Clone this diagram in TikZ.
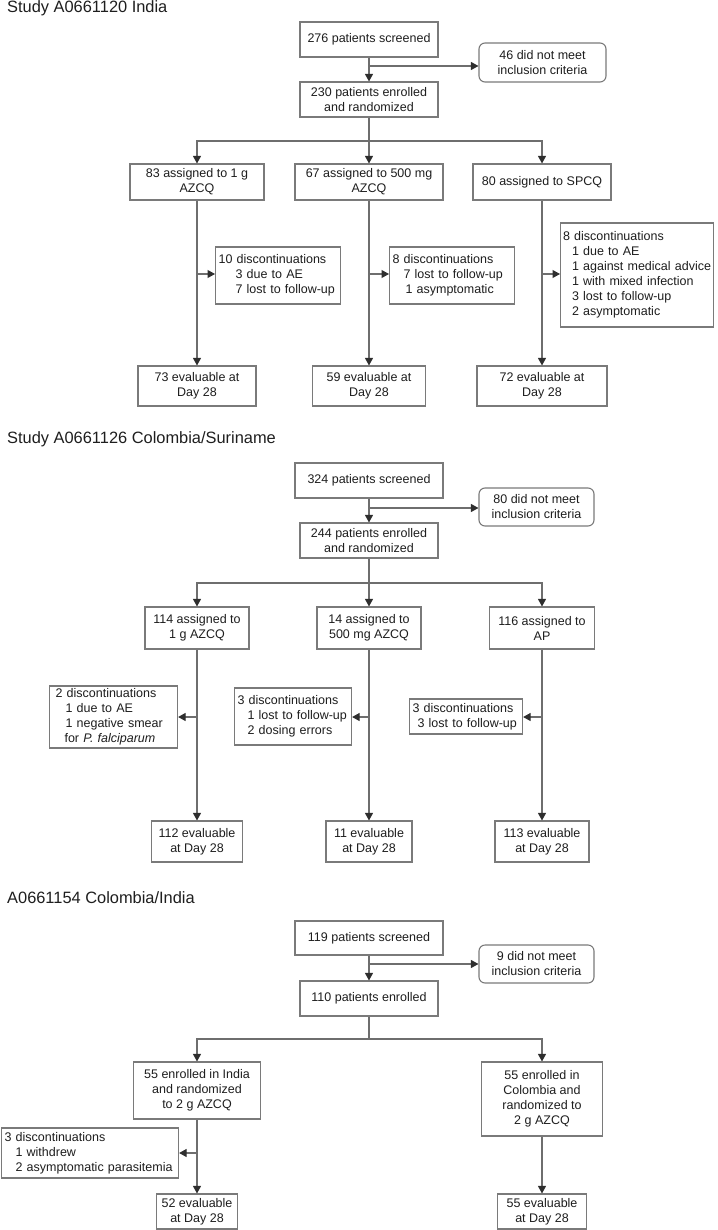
\documentclass[tikz,border=0pt]{standalone}
\usepackage{fontspec}
\setmainfont{Liberation Sans}
\usetikzlibrary{arrows.meta}
\definecolor{lncol}{HTML}{6E6E6E}
\definecolor{bdcol}{HTML}{7A7A7A}
\definecolor{tipcol}{HTML}{2E2E2E}
\definecolor{txcol}{HTML}{1E1E1E}
\begin{document}
\begin{tikzpicture}[x=1pt,y=-1pt,
  every node/.style={text=txcol},
  cbox/.style={draw=bdcol, line width=1.1pt, fill=white, inner sep=0pt, align=center,
    font=\fontsize{12.5}{15}\selectfont},
  rbox/.style={cbox, rounded corners=6pt},
  dbox/.style={draw=bdcol, line width=1.1pt, fill=white, inner xsep=3pt, inner ysep=0pt,
    align=left, anchor=west, font=\fontsize{12.5}{15}\selectfont},
  ttl/.style={anchor=base west, inner sep=0pt, font=\fontsize{16.4}{19}\selectfont},
  ln/.style={draw=lncol, line width=1.1pt},
  arr/.style={ln, -{Triangle[length=7.5pt,width=8pt,color=tipcol]}}
]
\useasboundingbox (0,0) rectangle (717,1230);

% ---------------- Section 1 ----------------
\node[ttl] (t1) at (7,13) {Study A0661120 India};
\node[cbox, minimum width=138, minimum height=35] (s1scr) at (369,39.5) {276 patients screened};
\node[rbox, minimum width=127, minimum height=39] (s1exc) at (542.5,62.5) {46 did not meet\\inclusion criteria};
\node[cbox, minimum width=138, minimum height=35] (s1enr) at (369,99.5) {230 patients enrolled\\and randomized};
\node[cbox, minimum width=134, minimum height=36] (s1a) at (197,182) {83 assigned to 1 g\\AZCQ};
\node[cbox, minimum width=148, minimum height=36] (s1b) at (369,182) {67 assigned to 500 mg\\AZCQ};
\node[cbox, minimum width=138, minimum height=36] (s1c) at (542,182) {80 assigned to SPCQ};
\node[dbox, text width=119, minimum height=57] (s1da) at (215,275.5)
  {10 discontinuations\\\hspace*{17pt}3 due to AE\\\hspace*{17pt}7 lost to follow-up};
\node[dbox, text width=119, minimum height=57] (s1db) at (389,275.5)
  {8 discontinuations\\\hspace*{11pt}7 lost to follow-up\\\hspace*{13pt}1 asymptomatic};
\node[dbox, inner xsep=2.5pt, text width=148, minimum height=104] (s1dc) at (560,275)
  {8 discontinuations\\\hspace*{9pt}1 due to AE\\\mbox{\hspace*{9pt}1 against medical advice}\\\hspace*{9pt}1 with mixed infection\\\hspace*{9pt}3 lost to follow-up\\\hspace*{9pt}2 asymptomatic};
\node[cbox, minimum width=118, minimum height=40] (s1ea) at (197,386) {73 evaluable at\\Day 28};
\node[cbox, minimum width=113, minimum height=40] (s1eb) at (369,386) {59 evaluable at\\Day 28};
\node[cbox, minimum width=130, minimum height=40] (s1ec) at (542,386) {72 evaluable at\\Day 28};

\draw[arr] (s1scr.south) -- (s1enr.north);
\coordinate (s1j) at (369,66);
\draw[arr] (s1j) -- (s1j -| s1exc.west);
\coordinate (s1h) at (369,141);
\draw[ln] (s1enr.south) -- (s1h);
\draw[arr] (s1h) -| (s1a.north);
\draw[arr] (s1h) -| (s1c.north);
\draw[arr] (s1h) -- (s1b.north);
\draw[arr] (s1a.south) -- (s1ea.north);
\draw[arr] (s1b.south) -- (s1eb.north);
\draw[arr] (s1c.south) -- (s1ec.north);
\coordinate (s1ja) at (197,274);
\coordinate (s1jb) at (369,274);
\coordinate (s1jc) at (542,274);
\draw[arr] (s1ja) -- (s1ja -| s1da.west);
\draw[arr] (s1jb) -- (s1jb -| s1db.west);
\draw[arr] (s1jc) -- (s1jc -| s1dc.west);

% ---------------- Section 2 ----------------
\node[ttl] (t2) at (7,443) {Study A0661126 Colombia/Suriname};
\node[cbox, minimum width=148, minimum height=35] (s2scr) at (369,480.5) {324 patients screened};
\node[rbox, minimum width=115, minimum height=38] (s2exc) at (536.5,507) {80 did not meet\\inclusion criteria};
\node[cbox, minimum width=138, minimum height=35] (s2enr) at (369,540.5) {244 patients enrolled\\and randomized};
\node[cbox, minimum width=104, minimum height=42] (s2a) at (197,628) {114 assigned to\\1 g AZCQ};
\node[cbox, minimum width=104, minimum height=42] (s2b) at (369,628) {14 assigned to\\500 mg AZCQ};
\node[cbox, minimum width=105, minimum height=42] (s2c) at (542,628) {116 assigned to\\AP};
\node[dbox, inner xsep=6pt, text width=116, minimum height=62] (s2da) at (49,717)
  {2 discontinuations\\\hspace*{10pt}1 due to AE\\\hspace*{10pt}1 negative smear\\\hspace*{9pt}for \textit{P. falciparum}};
\node[dbox, text width=111, minimum height=57] (s2db) at (234,716.5)
  {3 discontinuations\\\hspace*{10pt}1 lost to follow-up\\\hspace*{10pt}2 dosing errors};
\node[dbox, text width=107, minimum height=35] (s2dc) at (409,716.5)
  {3 discontinuations\\\hspace*{5pt}3 lost to follow-up};
\node[cbox, minimum width=91, minimum height=41] (s2ea) at (197,841.5) {112 evaluable\\at Day 28};
\node[cbox, minimum width=86, minimum height=41] (s2eb) at (369,841.5) {11 evaluable\\at Day 28};
\node[cbox, minimum width=94, minimum height=41] (s2ec) at (542,841.5) {113 evaluable\\at Day 28};

\draw[arr] (s2scr.south) -- (s2enr.north);
\coordinate (s2j) at (369,508);
\draw[arr] (s2j) -- (s2j -| s2exc.west);
\coordinate (s2h) at (369,583);
\draw[ln] (s2enr.south) -- (s2h);
\draw[arr] (s2h) -| (s2a.north);
\draw[arr] (s2h) -| (s2c.north);
\draw[arr] (s2h) -- (s2b.north);
\draw[arr] (s2a.south) -- (s2ea.north);
\draw[arr] (s2b.south) -- (s2eb.north);
\draw[arr] (s2c.south) -- (s2ec.north);
\coordinate (s2ja) at (197,717);
\coordinate (s2jb) at (369,717);
\coordinate (s2jc) at (542,717);
\draw[arr] (s2ja) -- (s2ja -| s2da.east);
\draw[arr] (s2jb) -- (s2jb -| s2db.east);
\draw[arr] (s2jc) -- (s2jc -| s2dc.east);

% ---------------- Section 3 ----------------
\node[ttl] (t3) at (7,903) {A0661154 Colombia/India};
\node[cbox, minimum width=148, minimum height=34] (s3scr) at (369,938) {119 patients screened};
\node[rbox, minimum width=115, minimum height=38] (s3exc) at (536.5,964) {9 did not meet\\inclusion criteria};
\node[cbox, minimum width=138, minimum height=35] (s3enr) at (369,998.5) {110 patients enrolled};
\node[cbox, minimum width=127, minimum height=57] (s3a) at (197,1090.5) {55 enrolled in India\\and randomized\\to 2 g AZCQ};
\node[cbox, minimum width=121, minimum height=74] (s3b) at (542,1099) {55 enrolled in\\Colombia and\\randomized to\\2 g AZCQ};
\node[dbox, text width=171, minimum height=50] (s3da) at (1,1153)
  {3 discontinuations\\\hspace*{11pt}1 withdrew\\\hspace*{11pt}2 asymptomatic parasitemia};
\node[cbox, minimum width=81, minimum height=35] (s3ea) at (197,1211.5) {52 evaluable\\at Day 28};
\node[cbox, minimum width=89, minimum height=35] (s3eb) at (542,1211.5) {55 evaluable\\at Day 28};

\draw[arr] (s3scr.south) -- (s3enr.north);
\coordinate (s3j) at (369,964);
\draw[arr] (s3j) -- (s3j -| s3exc.west);
\coordinate (s3h) at (369,1039);
\draw[ln] (s3enr.south) -- (s3h);
\draw[arr] (s3h) -| (s3a.north);
\draw[arr] (s3h) -| (s3b.north);
\draw[arr] (s3a.south) -- (s3ea.north);
\draw[arr] (s3b.south) -- (s3eb.north);
\coordinate (s3ja) at (197,1153);
\draw[arr] (s3ja) -- (s3ja -| s3da.east);
\end{tikzpicture}
\end{document}
